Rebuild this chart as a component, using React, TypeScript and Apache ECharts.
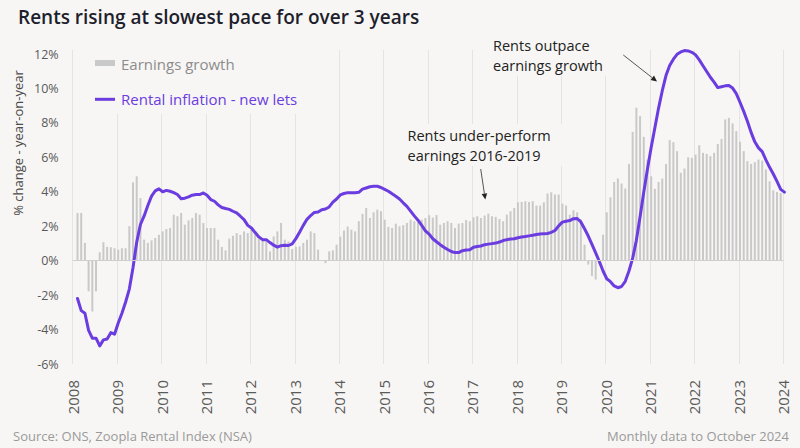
import React, { useEffect, useRef } from "react";
import * as echarts from "echarts";

// Year gridlines / tick labels
const YEARS = [2008, 2009, 2010, 2011, 2012, 2013, 2014, 2015, 2016, 2017, 2018, 2019, 2020, 2021, 2022, 2023, 2024];
const Y_TICKS = [-6, -4, -2, 0, 2, 4, 6, 8, 10, 12];

// Earnings growth (% y/y), monthly
const EARNINGS_GROWTH = [
  2.77, 2.77, 1.03, -1.78, -2.95, -1.78, 0.48, 1.07, 0.8, 0.78, 0.72, 0.64,
  0.72, 0.72, 2.0, 4.55, 4.9, 3.64, 1.22, 1.03, 1.18, 1.32, 1.5, 1.7,
  1.84, 1.9, 2.67, 2.58, 2.77, 2.09, 2.34, 2.48, 2.77, 2.67, 2.19, 1.9,
  1.9, 1.9, 1.22, 0.8, 0.6, 1.28, 1.45, 1.6, 1.5, 1.7, 1.6, 1.8,
  1.7, 1.41, 1.22, 1.12, 0.54, 1.41, 1.7, 2.19, 1.22, 1.12, 0.68, 0.8,
  0.83, 1.03, 1.22, 1.7, 1.6, 0.64, 0, -0.14, 0.54, 0.6, 0.93, 1.4,
  1.75, 1.98, 1.8, 1.7, 2.29, 2.72, 3.06, 2.48, 2.81, 2.96, 2.87, 2.38,
  1.96, 1.9, 2.15, 2.0, 2.06, 2.19, 2.38, 2.29, 2.23, 2.38, 2.48, 2.64,
  2.5, 2.65, 2.09, 2.19, 2.29, 2.19, 1.9, 2.15, 2.19, 2.36, 2.29, 2.52,
  2.58, 2.48, 2.62, 2.73, 2.58, 2.54, 2.42, 2.29, 2.67, 2.87, 3.06, 3.39,
  3.41, 3.45, 3.41, 3.45, 3.2, 3.2, 3.39, 3.9, 3.97, 3.84, 3.84, 3.31,
  3.2, 2.67, 2.93, 2.81, 2.4, 0.93, -0.23, -0.9, -1.1, -0.2, 1.51, 2.81,
  3.68, 4.57, 4.77, 4.48, 4.19, 5.62, 7.48, 8.88, 8.39, 7.19, 5.87, 4.9,
  4.17, 4.57, 4.77, 5.62, 7.0, 6.88, 6.36, 5.1, 5.35, 6.0, 5.97, 6.16,
  6.7, 6.26, 6.2, 6.07, 6.26, 6.78, 7.07, 8.2, 8.29, 7.97, 7.52, 6.9,
  6.36, 5.78, 5.62, 5.72, 5.87, 5.81, 5.3, 4.61, 4.09, 3.99, 3.93,
];

// Rental inflation - new lets (% y/y), monthly
const RENTAL_INFLATION = [
  -2.2, -2.9, -3.05, -4.05, -4.5, -4.5, -4.95, -4.6, -4.55, -4.18, -4.27, -3.62,
  -3.05, -2.4, -1.65, -0.4, 1.08, 2.1, 2.6, 3.2, 3.75, 4.05, 4.17, 4.0,
  4.08, 4.03, 3.95, 3.84, 3.6, 3.63, 3.7, 3.8, 3.84, 3.84, 3.93, 3.8,
  3.55, 3.45, 3.24, 3.09, 3.03, 2.98, 2.87, 2.77, 2.58, 2.38, 2.05, 1.9,
  1.63, 1.38, 1.22, 1.22, 1.05, 0.9, 0.79, 0.87, 0.9, 0.88, 0.98, 1.28,
  1.65, 2.05, 2.4, 2.62, 2.8, 2.82, 2.96, 3.0, 3.12, 3.4, 3.58, 3.82,
  3.9, 3.95, 3.95, 3.95, 3.97, 4.15, 4.22, 4.29, 4.32, 4.32, 4.25, 4.14,
  4.03, 3.88, 3.74, 3.58, 3.36, 3.15, 2.88, 2.6, 2.35, 2.05, 1.73, 1.54,
  1.27, 1.1, 0.93, 0.78, 0.65, 0.53, 0.47, 0.47, 0.58, 0.62, 0.64, 0.78,
  0.82, 0.85, 0.93, 0.96, 0.99, 1.02, 1.08, 1.17, 1.22, 1.26, 1.27, 1.33,
  1.37, 1.4, 1.44, 1.48, 1.52, 1.55, 1.57, 1.58, 1.64, 1.75, 2.02, 2.24,
  2.29, 2.33, 2.44, 2.45, 2.25, 1.85, 1.43, 0.95, 0.45, -0.05, -0.6, -1.05,
  -1.22, -1.47, -1.57, -1.5, -1.2, -0.6, 0.15, 1.18, 2.55, 3.98, 5.32, 6.57,
  7.72, 8.86, 9.87, 10.75, 11.33, 11.7, 11.98, 12.12, 12.2, 12.18, 12.1, 11.95,
  11.66, 11.32, 10.98, 10.65, 10.37, 10.05, 10.1, 10.15, 10.17, 10.02, 9.7, 9.2,
  8.67, 8.1, 7.45, 6.9, 6.55, 6.33, 5.85, 5.42, 5.03, 4.6, 4.14, 3.98,
];

const START_YEAR = YEARS[0];
const MONTH_OFFSET = 1.3; // first observation sits ~1.3 months after the first gridline

const BG = "#f7f6f4";
const PURPLE = "#6b3ce0";
const BAR_GREY = "#c9c9c9";
const FONT = "Open Sans";

const monthX = (i: number) => START_YEAR + (i + MONTH_OFFSET) / 12;

export default function App() {
  const ref = useRef<HTMLDivElement>(null);

  useEffect(() => {
    if (!ref.current) return;
    const chart = echarts.init(ref.current, null, { renderer: "svg" });

    const barData = EARNINGS_GROWTH.map((v, i) => [monthX(i), v]);
    const lineData = RENTAL_INFLATION.map((v, i) => [monthX(i), v]);

    const arrow = (x1: number, y1: number, x2: number, y2: number) => {
      const dx = x2 - x1;
      const dy = y2 - y1;
      const len = Math.sqrt(dx * dx + dy * dy);
      const ux = dx / len;
      const uy = dy / len;
      const bx = x2 - ux * 6;
      const by = y2 - uy * 6;
      const px = -uy * 2.8;
      const py = ux * 2.8;
      return [
        {
          type: "line",
          z: 10,
          shape: { x1, y1, x2: bx, y2: by },
          style: { stroke: "#555", lineWidth: 1 },
        },
        {
          type: "polygon",
          z: 10,
          shape: { points: [[x2, y2], [bx + px, by + py], [bx - px, by - py]] },
          style: { fill: "#222" },
        },
      ];
    };

    const txt = (text: string, x: number, y: number, size: number, fill: string, extra: any = {}) => ({
      type: "text",
      x,
      y,
      z: 10,
      style: {
        text,
        fill,
        fontSize: size,
        fontFamily: FONT,
        fontWeight: extra.fontWeight || "normal",
        lineHeight: extra.lineHeight,
        textAlign: extra.align || "left",
        align: extra.align || "left",
        textVerticalAlign: extra.vAlign || "middle",
        verticalAlign: extra.vAlign || "middle",
      },
    });

    const option: any = {
      animation: false,
      backgroundColor: BG,
      textStyle: { fontFamily: FONT },
      grid: { left: 72.7, right: 16.7, top: 49.7, bottom: 84 },
      xAxis: {
        type: "value",
        min: YEARS[0],
        max: YEARS[YEARS.length - 1],
        interval: 1,
        axisLine: { show: false },
        axisTick: { show: false },
        splitLine: { show: true, lineStyle: { color: "#e4e4e4", width: 1 } },
        axisLabel: {
          rotate: 90,
          margin: 16,
          color: "#5a5a5a",
          fontSize: 15,
          fontFamily: FONT,
          formatter: (v: number) => String(v),
        },
      },
      yAxis: {
        type: "value",
        min: Y_TICKS[0],
        max: 12.25,
        interval: 2,
        axisLine: { show: false },
        axisTick: { show: false },
        splitLine: { show: false },
        axisLabel: {
          margin: 14,
          color: "#5a5a5a",
          fontSize: 12.5,
          fontFamily: FONT,
          showMaxLabel: false,
          formatter: (v: number) => (Y_TICKS.includes(v) ? `${v}%` : ""),
        },
      },
      series: [
        {
          type: "bar",
          name: "Earnings growth",
          data: barData,
          barWidth: 2,
          clip: false,
          itemStyle: { color: BAR_GREY },
          z: 2,
          markLine: {
            silent: true,
            symbol: "none",
            label: { show: false },
            lineStyle: { color: "#cfcfcf", width: 1, type: "solid" },
            data: [{ yAxis: 0 }],
          },
        },
        {
          type: "line",
          name: "Rental inflation - new lets",
          data: lineData,
          showSymbol: false,
          clip: false,
          smooth: false,
          lineStyle: { color: PURPLE, width: 3, cap: "round", join: "round" },
          itemStyle: { color: PURPLE },
          z: 4,
        },
      ],
      graphic: [
        txt("Rents rising at slowest pace for over 3 years", 18, 17, 19, "#1e1e2c", { fontWeight: 600 }),
        // y axis name
        {
          type: "text",
          x: 18,
          y: 143,
          rotation: Math.PI / 2,
          z: 10,
          style: {
            text: "% change - year-on-year",
            fill: "#4a4a4a",
            fontSize: 13,
            fontFamily: FONT,
            textAlign: "center",
            align: "center",
            textVerticalAlign: "middle",
            verticalAlign: "middle",
          },
        },
        // legend background (hides gridlines)
        { type: "rect", z: 1, shape: { x: 82, y: 46, width: 232, height: 68 }, style: { fill: BG } },
        { type: "rect", z: 10, shape: { x: 95, y: 60, width: 20, height: 6 }, style: { fill: BAR_GREY } },
        txt("Earnings growth", 121, 63.5, 15, "#8c8c8c"),
        { type: "line", z: 10, shape: { x1: 95, y1: 99.3, x2: 115, y2: 99.3 }, style: { stroke: PURPLE, lineWidth: 3 } },
        txt("Rental inflation - new lets", 121, 99.3, 15, PURPLE),
        // annotation 1
        { type: "rect", z: 1, shape: { x: 488, y: 34, width: 128, height: 42 }, style: { fill: BG } },
        txt("Rents outpace\nearnings growth", 493, 35.5, 14.5, "#222", { vAlign: "top", lineHeight: 20 }),
        ...arrow(623.3, 55, 657, 81.5),
        // annotation 2
        { type: "rect", z: 1, shape: { x: 402, y: 124, width: 160, height: 42 }, style: { fill: BG } },
        txt("Rents under-perform\nearnings 2016-2019", 407.5, 125.5, 14.5, "#222", { vAlign: "top", lineHeight: 20 }),
        ...arrow(480.7, 169, 485.3, 199.5),
        // footer
        txt("Source: ONS, Zoopla Rental Index (NSA)", 13, 436, 13, "#9a9a9a"),
        txt("Monthly data to October 2024", 789, 436, 13, "#9a9a9a", { align: "right" }),
      ],
    };

    chart.setOption(option);
    return () => chart.dispose();
  }, []);

  return (
    <div
      ref={ref}
      style={{ position: "absolute", left: 0, top: 0, width: 800, height: 448, background: BG }}
    />
  );
}
